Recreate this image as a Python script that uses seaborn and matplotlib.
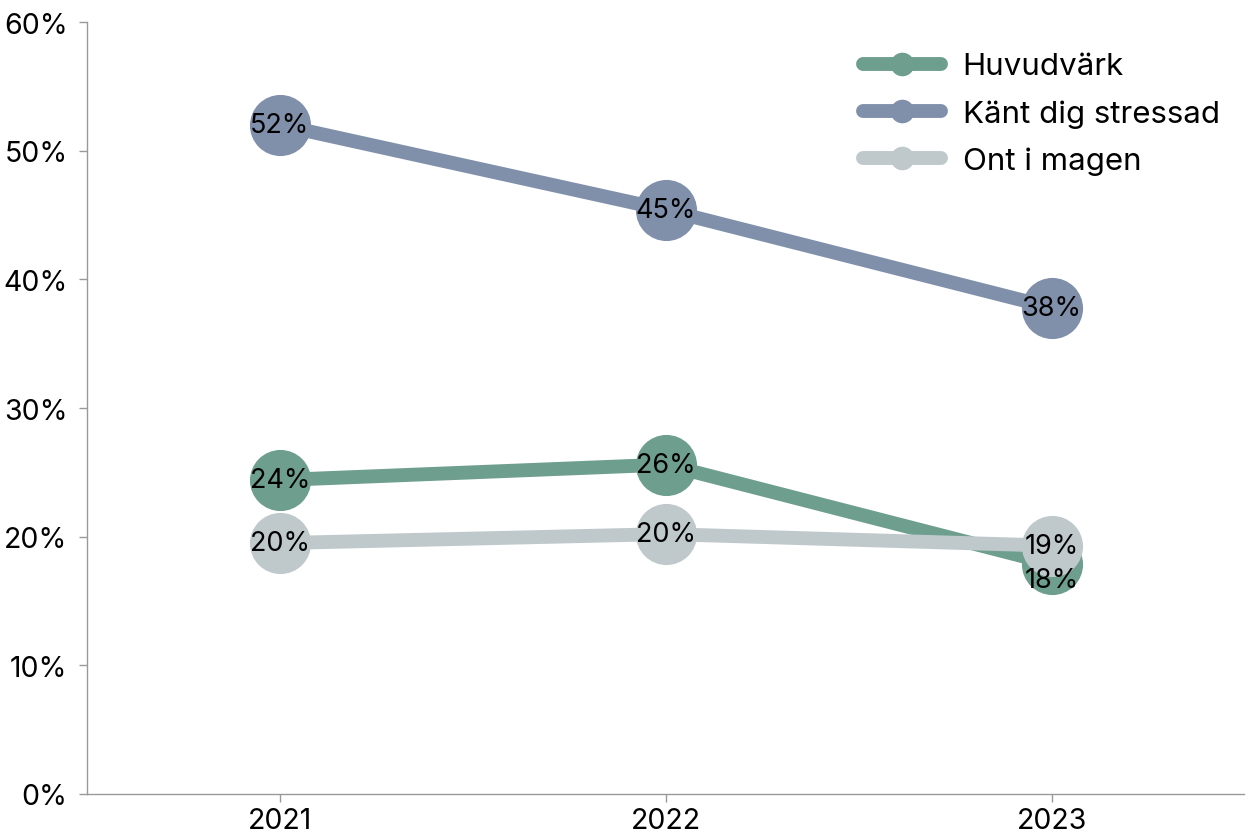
import matplotlib
matplotlib.use("Agg")
import matplotlib.pyplot as plt
from matplotlib.lines import Line2D
import pandas as pd
import seaborn as sns

# Data
years = [2021, 2022, 2023]
huvudvark = [24.4, 25.6, 17.9]
stressad = [52.0, 45.4, 37.8]
ont_i_magen = [19.5, 20.2, 19.3]

series = ["Huvudvärk", "Känt dig stressad", "Ont i magen"]
colors = ["#6e9e8e", "#8090aa", "#bfc9cc"]

df = pd.DataFrame({
    "year": years * 3,
    "value": huvudvark + stressad + ont_i_magen,
    "serie": [s for s in series for _ in years],
})

sns.set_style("white")
plt.rcParams["font.family"] = ["Inter", "DejaVu Sans"]
plt.rcParams["text.color"] = "black"
plt.rcParams["xtick.color"] = "black"
plt.rcParams["ytick.color"] = "black"

fig = plt.figure(figsize=(12.52, 8.37), dpi=100)
ax = fig.add_axes([0.0695, 0.0502, 0.9245, 0.9223])

sns.lineplot(
    data=df, x="year", y="value", hue="serie", palette=colors,
    marker="o", markersize=44, markeredgewidth=0, linewidth=10,
    legend=False, ax=ax,
)

# Data labels
for s in series:
    sub = df[df["serie"] == s]
    for _, r in sub.iterrows():
        txt = f"{round(r['value']):.0f}%"
        dy = -12 if (s == "Huvudvärk" and r["year"] == 2023) else 0
        ax.annotate(txt, (r["year"], r["value"]), xytext=(0, dy),
                    textcoords="offset points", ha="center", va="center",
                    fontsize=19.5, color="black", zorder=10)

ax.set_xlim(2020.5, 2023.5)
ax.set_ylim(0, 60)
ax.set_xticks(years)
ax.set_xticklabels([str(y) for y in years])
ax.set_yticks(range(0, 61, 10))
ax.set_yticklabels([f"{v}%" for v in range(0, 61, 10)])
ax.set_xlabel("")
ax.set_ylabel("")
ax.tick_params(axis="both", labelsize=20.5, length=6, width=1, color="#999999",
               labelcolor="black", bottom=True, left=True)
ax.tick_params(axis="y", pad=8)
for side in ["top", "right"]:
    ax.spines[side].set_visible(False)
for side in ["left", "bottom"]:
    ax.spines[side].set_color("#999999")
    ax.spines[side].set_linewidth(1)

handles = [Line2D([0], [0], color=c, linewidth=10, marker="o", markersize=16)
           for c in colors]
ax.legend(handles, series, loc="upper right", bbox_to_anchor=(1.003, 0.997),
          frameon=False, fontsize=22.5, handlelength=2.5, labelspacing=0.6,
          handletextpad=0.7)

plt.savefig("out.png", dpi=100)
